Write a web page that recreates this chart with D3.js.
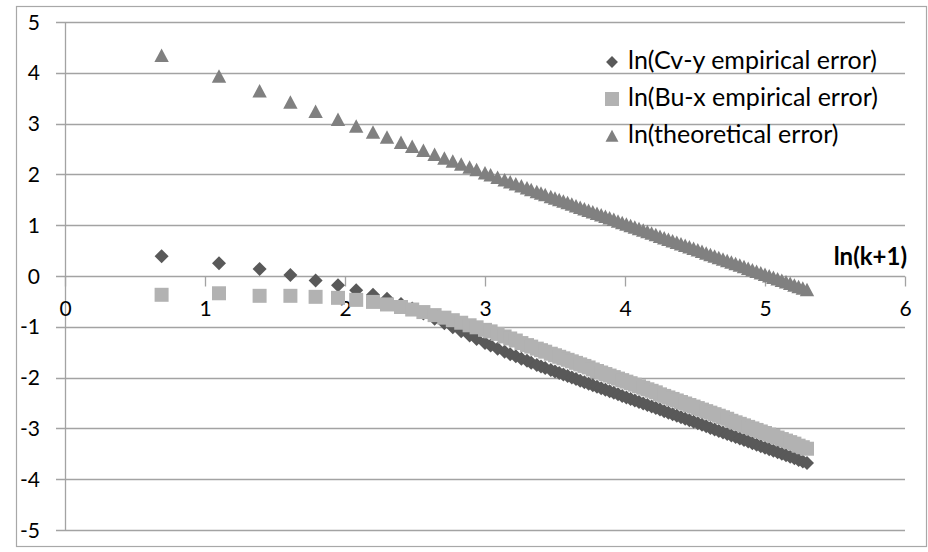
<!DOCTYPE html>
<html lang="en">
<head>
<meta charset="utf-8">
<title>ln error vs ln(k+1)</title>
<script src="https://d3js.org/d3.v7.min.js"></script>
<style>
body { margin: 0; background: #fff; }
text { font-family: Lato, "Open Sans", sans-serif; fill: #000; }
</style>
</head>
<body>
<div id="chart"></div>
<script>
// x values: ln(k+1)
var xs = [0.69,1.10,1.39,1.61,1.79,1.95,2.08,2.20,2.30,2.40,2.48,2.56,2.64,2.71,2.77,2.83,2.89,2.94,3.00,
  3.04,3.09,3.14,3.18,3.22,3.26,3.30,3.33,3.37,3.40,3.43,3.47,3.50,
  3.53,3.56,3.59,3.62,3.65,3.68,3.71,3.74,3.77,3.80,3.83,3.86,3.89,3.92,3.95,3.98,
  4.01,4.04,4.07,4.10,4.13,4.16,4.19,4.22,4.25,4.28,4.31,4.34,4.37,4.40,4.43,4.46,4.49,
  4.52,4.55,4.58,4.61,4.64,4.67,4.70,4.73,4.76,4.79,4.82,4.85,4.88,4.91,4.94,4.97,
  5.00,5.03,5.06,5.09,5.12,5.15,5.18,5.21,5.24,5.27,5.30];

// ln(Cv-y empirical error)
var cvY = [0.39,0.25,0.14,0.02,-0.09,-0.18,-0.28,-0.37,-0.45,-0.55,-0.64,-0.74,-0.84,-0.93,-1.01,-1.09,-1.17,-1.24,-1.32,
  -1.37,-1.43,-1.49,-1.54,-1.58,-1.63,-1.67,-1.71,-1.75,-1.78,-1.81,-1.85,-1.88,
  -1.91,-1.94,-1.97,-2.00,-2.03,-2.06,-2.09,-2.12,-2.15,-2.18,-2.21,-2.24,-2.27,-2.30,-2.33,-2.36,
  -2.39,-2.42,-2.45,-2.48,-2.51,-2.54,-2.57,-2.60,-2.63,-2.66,-2.69,-2.72,-2.75,-2.78,-2.81,-2.84,-2.87,
  -2.90,-2.93,-2.96,-2.99,-3.02,-3.05,-3.08,-3.11,-3.14,-3.17,-3.20,-3.23,-3.26,-3.29,-3.32,-3.35,
  -3.38,-3.41,-3.44,-3.47,-3.50,-3.53,-3.56,-3.59,-3.62,-3.65,-3.68];

// ln(Bu-x empirical error)
var buX = [-0.37,-0.34,-0.39,-0.39,-0.41,-0.43,-0.47,-0.51,-0.56,-0.61,-0.66,-0.71,-0.77,-0.82,-0.87,-0.92,-0.97,-1.01,-1.06,
  -1.09,-1.14,-1.19,-1.23,-1.27,-1.32,-1.36,-1.39,-1.43,-1.46,-1.49,-1.53,-1.56,
  -1.59,-1.62,-1.65,-1.68,-1.71,-1.74,-1.77,-1.80,-1.84,-1.87,-1.90,-1.93,-1.96,-1.99,-2.02,-2.05,
  -2.08,-2.11,-2.14,-2.17,-2.20,-2.23,-2.26,-2.29,-2.33,-2.36,-2.39,-2.42,-2.45,-2.48,-2.51,-2.54,-2.57,
  -2.60,-2.63,-2.66,-2.69,-2.72,-2.75,-2.78,-2.81,-2.85,-2.88,-2.91,-2.94,-2.97,-3.00,-3.03,-3.06,
  -3.09,-3.12,-3.15,-3.18,-3.21,-3.24,-3.27,-3.30,-3.34,-3.37,-3.40];

// ln(theoretical error)
var theo = [4.34,3.93,3.64,3.42,3.24,3.08,2.95,2.83,2.73,2.63,2.55,2.47,2.39,2.32,2.26,2.20,2.14,2.09,2.03,
  1.99,1.94,1.89,1.85,1.81,1.77,1.73,1.70,1.66,1.63,1.60,1.56,1.53,
  1.50,1.47,1.44,1.41,1.38,1.35,1.32,1.29,1.26,1.23,1.20,1.17,1.14,1.11,1.08,1.05,
  1.02,0.99,0.96,0.93,0.90,0.87,0.84,0.81,0.78,0.75,0.72,0.69,0.66,0.63,0.60,0.57,0.54,
  0.51,0.48,0.45,0.42,0.39,0.36,0.33,0.30,0.27,0.24,0.21,0.18,0.15,0.12,0.09,0.06,
  0.03,0.00,-0.03,-0.06,-0.09,-0.12,-0.15,-0.18,-0.21,-0.24,-0.27];

var seriesNames = ["ln(Cv-y empirical error)", "ln(Bu-x empirical error)", "ln(theoretical error)"];
var xTicks = [0, 1, 2, 3, 4, 5, 6];
var yTicks = [-5, -4, -3, -2, -1, 0, 1, 2, 3, 4, 5];
var xTitle = "ln(k+1)";

var w = 928, h = 552;
var gridColor = "#a3a3a3";

var svg = d3.select("#chart").append("svg")
  .attr("width", w)
  .attr("height", h);

// chart border
svg.append("rect")
  .attr("x", 16.5).attr("y", 6.5)
  .attr("width", 910).attr("height", 540)
  .attr("fill", "none")
  .attr("stroke", "#a8a8a8")
  .attr("stroke-width", 1.2);

var xScale = d3.scaleLinear().domain([0, 6]).range([65, 905]);
var yScale = d3.scaleLinear().domain([-5, 5]).range([530, 22]);

// horizontal gridlines (with outside tick stubs)
svg.append("g")
  .selectAll("line")
  .data(yTicks)
  .enter()
  .append("line")
  .attr("x1", 56)
  .attr("x2", xScale(6))
  .attr("y1", d => Math.round(yScale(d)) + 0.5)
  .attr("y2", d => Math.round(yScale(d)) + 0.5)
  .attr("stroke", gridColor)
  .attr("stroke-width", 1.3);

// y axis line
svg.append("line")
  .attr("x1", xScale(0) + 0.5).attr("x2", xScale(0) + 0.5)
  .attr("y1", yScale(5)).attr("y2", yScale(-5))
  .attr("stroke", gridColor)
  .attr("stroke-width", 1.3);

// y labels
svg.append("g")
  .selectAll("text")
  .data(yTicks)
  .enter()
  .append("text")
  .attr("x", 40)
  .attr("y", d => yScale(d))
  .attr("dy", "0.36em")
  .attr("text-anchor", "end")
  .style("font-size", "21px")
  .text(d => d);

// x axis at y = 0, ticks going down
var xAxis = d3.axisBottom(xScale)
  .tickValues(xTicks)
  .tickSize(10)
  .tickPadding(15)
  .tickFormat(d3.format("d"));

var xg = svg.append("g")
  .attr("transform", "translate(0," + (Math.round(yScale(0)) + 0.5) + ")")
  .call(xAxis);
xg.select(".domain").remove();
xg.selectAll(".tick line").attr("stroke", gridColor).attr("stroke-width", 1.3);
xg.selectAll(".tick text")
  .style("font-family", "Lato, sans-serif")
  .style("font-size", "21px")
  .attr("fill", "#000");

// axis title
svg.append("text")
  .attr("x", 907)
  .attr("y", 265)
  .attr("text-anchor", "end")
  .style("font-size", "24px")
  .style("font-weight", "bold")
  .text(xTitle);

// marker shapes
var diamondPath = "M0,-7L7,0L0,7L-7,0Z";
var squarePath = "M-7,-7L7,-7L7,7L-7,7Z";
var trianglePath = "M0,-7L7.2,6.5L-7.2,6.5Z";

var series = [
  { name: seriesNames[0], ys: cvY, path: diamondPath, color: "#595959" },
  { name: seriesNames[1], ys: buX, path: squarePath, color: "#b2b2b2" },
  { name: seriesNames[2], ys: theo, path: trianglePath, color: "#808080" }
];

series.forEach(function (s) {
  svg.append("g")
    .selectAll("path")
    .data(xs.map((x, i) => ({ x: x, y: s.ys[i] })))
    .enter()
    .append("path")
    .attr("d", s.path)
    .attr("transform", d => "translate(" + xScale(d.x) + "," + yScale(d.y) + ")")
    .attr("fill", s.color);
});

// legend
var legend = svg.append("g")
  .selectAll("g")
  .data(series)
  .enter()
  .append("g")
  .attr("transform", (d, i) => "translate(612," + (62 + i * 37) + ")");

legend.append("path")
  .attr("d", d => d.path)
  .attr("transform", (d, i) => i === 0 ? "scale(0.85)" : (i === 1 ? "scale(1.0)" : "scale(0.9)"))
  .attr("fill", d => d.color);

legend.append("text")
  .attr("x", 16)
  .attr("y", 7)
  .style("font-size", "25px")
  .text(d => d.name);
</script>
</body>
</html>
